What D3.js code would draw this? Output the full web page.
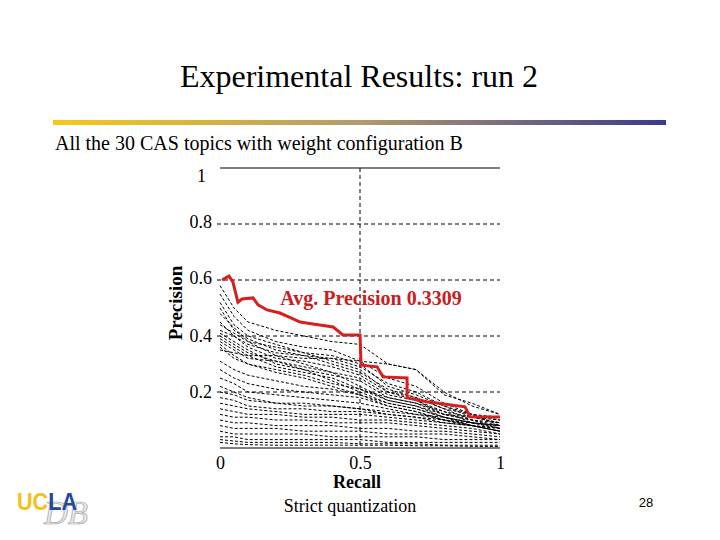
<!DOCTYPE html>
<html>
<head>
<meta charset="utf-8">
<script src="https://cdn.jsdelivr.net/npm/d3@7/dist/d3.min.js"></script>
<style>
  body { margin: 0; background: #fff; }
  svg text { font-family: "Liberation Serif", "Times New Roman", serif; }
</style>
</head>
<body>
<svg id="slide"></svg>
<script>
// Slide size
const svgWidth = 720;
const svgHeight = 540;

// Recall points where every topic curve is sampled
const recallPoints = [0, 0.05, 0.1, 0.2, 0.3, 0.4, 0.5, 0.6, 0.7, 0.8, 0.9, 1.0];

// Precision per topic (30 CAS topics)
const topicPrecision = [
    [0.58, 0.50, 0.45, 0.42, 0.40, 0.38, 0.37, 0.30, 0.28, 0.20, 0.15, 0.12],
    [0.55, 0.47, 0.42, 0.38, 0.36, 0.35, 0.31, 0.25, 0.22, 0.16, 0.12, 0.10],
    [0.52, 0.44, 0.40, 0.37, 0.34, 0.33, 0.30, 0.22, 0.19, 0.15, 0.11, 0.09],
    [0.50, 0.42, 0.39, 0.35, 0.33, 0.30, 0.27, 0.21, 0.18, 0.14, 0.10, 0.08],
    [0.48, 0.43, 0.38, 0.36, 0.34, 0.31, 0.28, 0.20, 0.17, 0.13, 0.11, 0.10],
    [0.45, 0.40, 0.37, 0.34, 0.33, 0.32, 0.29, 0.23, 0.20, 0.15, 0.12, 0.11],
    [0.44, 0.41, 0.38, 0.33, 0.30, 0.27, 0.25, 0.19, 0.17, 0.12, 0.10, 0.09],
    [0.42, 0.40, 0.36, 0.32, 0.31, 0.29, 0.26, 0.20, 0.18, 0.14, 0.12, 0.08],
    [0.41, 0.38, 0.35, 0.30, 0.28, 0.26, 0.24, 0.18, 0.16, 0.13, 0.09, 0.07],
    [0.40, 0.37, 0.34, 0.31, 0.29, 0.27, 0.22, 0.17, 0.15, 0.11, 0.09, 0.08],
    [0.39, 0.36, 0.33, 0.29, 0.27, 0.25, 0.21, 0.18, 0.16, 0.12, 0.10, 0.07],
    [0.38, 0.35, 0.32, 0.31, 0.28, 0.24, 0.20, 0.16, 0.14, 0.11, 0.08, 0.06],
    [0.37, 0.33, 0.30, 0.28, 0.26, 0.23, 0.21, 0.17, 0.15, 0.12, 0.11, 0.09],
    [0.36, 0.32, 0.30, 0.27, 0.25, 0.22, 0.19, 0.15, 0.13, 0.10, 0.08, 0.06],
    [0.35, 0.34, 0.33, 0.33, 0.32, 0.32, 0.31, 0.30, 0.28, 0.19, 0.16, 0.12],
    [0.31, 0.28, 0.26, 0.24, 0.22, 0.21, 0.19, 0.16, 0.14, 0.11, 0.09, 0.08],
    [0.28, 0.25, 0.23, 0.21, 0.20, 0.19, 0.18, 0.15, 0.13, 0.10, 0.08, 0.07],
    [0.25, 0.23, 0.20, 0.19, 0.18, 0.17, 0.16, 0.14, 0.12, 0.11, 0.09, 0.08],
    [0.22, 0.20, 0.18, 0.16, 0.16, 0.15, 0.14, 0.13, 0.12, 0.10, 0.09, 0.07],
    [0.20, 0.19, 0.17, 0.16, 0.15, 0.15, 0.14, 0.12, 0.11, 0.09, 0.08, 0.06],
    [0.18, 0.17, 0.15, 0.14, 0.14, 0.13, 0.13, 0.12, 0.11, 0.10, 0.08, 0.07],
    [0.16, 0.15, 0.14, 0.13, 0.12, 0.12, 0.12, 0.11, 0.10, 0.09, 0.08, 0.06],
    [0.14, 0.13, 0.12, 0.12, 0.11, 0.11, 0.10, 0.10, 0.09, 0.08, 0.07, 0.05],
    [0.12, 0.11, 0.11, 0.10, 0.10, 0.09, 0.09, 0.09, 0.08, 0.07, 0.06, 0.05],
    [0.10, 0.09, 0.09, 0.08, 0.08, 0.08, 0.07, 0.07, 0.06, 0.06, 0.05, 0.04],
    [0.08, 0.07, 0.07, 0.07, 0.06, 0.06, 0.06, 0.05, 0.05, 0.05, 0.04, 0.03],
    [0.06, 0.05, 0.05, 0.05, 0.05, 0.04, 0.04, 0.04, 0.04, 0.03, 0.03, 0.03],
    [0.04, 0.04, 0.03, 0.03, 0.03, 0.03, 0.03, 0.02, 0.02, 0.02, 0.02, 0.02],
    [0.03, 0.025, 0.02, 0.02, 0.02, 0.02, 0.015, 0.015, 0.015, 0.01, 0.01, 0.01],
    [0.02, 0.015, 0.012, 0.01, 0.01, 0.01, 0.01, 0.01, 0.008, 0.008, 0.006, 0.005]
];

// Red curve (average precision run)
const avgRecall = [0.007, 0.032, 0.046, 0.064, 0.079, 0.118, 0.136, 0.168, 0.214, 0.261, 0.286,
    0.332, 0.404, 0.439, 0.5, 0.504, 0.561, 0.582, 0.668, 0.668, 0.739, 0.875, 0.893, 1.0];
const avgPrecision = [0.600, 0.614, 0.593, 0.521, 0.532, 0.536, 0.511, 0.493, 0.482, 0.461, 0.450,
    0.443, 0.432, 0.404, 0.404, 0.296, 0.290, 0.254, 0.250, 0.179, 0.165, 0.147, 0.112, 0.111];

// Tick labels
const yTicks = [0.2, 0.4, 0.6, 0.8, 1];
const yTickLabels = ["0.2", "0.4", "0.6", "0.8", "1"];
const xTicks = [0, 0.5, 1];
const xTickLabels = ["0", "0.5", "1"];

const svg = d3.select("#slide")
    .attr("width", svgWidth)
    .attr("height", svgHeight);

// Title
svg.append("text")
    .attr("x", 359).attr("y", 87)
    .attr("text-anchor", "middle")
    .style("font-size", "32px")
    .text("Experimental Results: run 2");

// Gradient rule under the title
const grad = svg.append("defs").append("linearGradient")
    .attr("id", "rule");
grad.append("stop").attr("offset", "0%").attr("stop-color", "#f7c81c");
grad.append("stop").attr("offset", "50%").attr("stop-color", "#b49a6c");
grad.append("stop").attr("offset", "100%").attr("stop-color", "#383a8e");

svg.append("rect")
    .attr("x", 53).attr("y", 120)
    .attr("width", 613).attr("height", 5)
    .attr("fill", "url(#rule)");

svg.append("text")
    .attr("x", 55).attr("y", 150)
    .style("font-size", "20px")
    .text("All the 30 CAS topics with weight configuration B");

// Scales
const x = d3.scaleLinear().domain([0, 1]).range([220, 500]);
const y = d3.scaleLinear().domain([0, 1]).range([448, 168]);

const chart = svg.append("g");

// Dashed grid lines
chart.selectAll(".hgrid")
    .data(yTicks.filter(d => d < 1))
    .enter().append("line")
    .attr("x1", x(0) - 3).attr("x2", x(1))
    .attr("y1", d => y(d)).attr("y2", d => y(d))
    .attr("stroke", "#000").attr("stroke-width", 1)
    .attr("stroke-dasharray", "4,3");

chart.append("line")
    .attr("x1", x(0.5)).attr("x2", x(0.5))
    .attr("y1", y(1)).attr("y2", y(0))
    .attr("stroke", "#000").attr("stroke-width", 1)
    .attr("stroke-dasharray", "4,3");

// Solid top and bottom lines
[0, 1].forEach(v => {
    chart.append("line")
        .attr("x1", x(0)).attr("x2", x(1))
        .attr("y1", y(v)).attr("y2", y(v))
        .attr("stroke", "#000").attr("stroke-width", 1.2);
});

// Topic curves
const line = d3.line()
    .x(d => x(d[0]))
    .y(d => y(d[1]));

chart.selectAll(".topic")
    .data(topicPrecision)
    .enter().append("path")
    .attr("class", "topic")
    .attr("d", p => line(recallPoints.map((r, i) => [r, p[i]])))
    .attr("fill", "none")
    .attr("stroke", "#000")
    .attr("stroke-width", 1)
    .attr("stroke-dasharray", "3,2");

// Average curve
chart.append("path")
    .attr("d", line(avgRecall.map((r, i) => [r, avgPrecision[i]])))
    .attr("fill", "none")
    .attr("stroke", "#d71f1f")
    .attr("stroke-width", 3);

chart.append("text")
    .attr("x", 371).attr("y", 305)
    .attr("text-anchor", "middle")
    .attr("fill", "#c8201e")
    .style("font-size", "20px")
    .style("font-weight", "bold")
    .text("Avg. Precision 0.3309");

// Axes (labels only)
const yAxis = chart.append("g")
    .attr("transform", "translate(212,0)")
    .call(d3.axisLeft(y).tickValues(yTicks).tickSize(0).tickPadding(0)
        .tickFormat((d, i) => yTickLabels[i]));
yAxis.select(".domain").remove();
yAxis.selectAll("text")
    .style("font-family", "Liberation Serif, serif")
    .style("font-size", "18px")
    .attr("fill", "#000");
yAxis.selectAll(".tick").filter(d => d === 1)
    .select("text").attr("x", -6).attr("dy", "0.75em");
yAxis.selectAll(".tick").filter(d => d === 0.8 || d === 0.6)
    .select("text").attr("dy", "0.2em");

const xAxis = chart.append("g")
    .attr("transform", "translate(0,456)")
    .call(d3.axisBottom(x).tickValues(xTicks).tickSize(0).tickPadding(0)
        .tickFormat((d, i) => xTickLabels[i]));
xAxis.select(".domain").remove();
xAxis.selectAll("text")
    .style("font-family", "Liberation Serif, serif")
    .style("font-size", "18px")
    .attr("fill", "#000");

// Axis titles
svg.append("text")
    .attr("transform", "translate(182,303) rotate(-90)")
    .attr("text-anchor", "middle")
    .style("font-size", "19px")
    .style("font-weight", "bold")
    .text("Precision");

svg.append("text")
    .attr("x", 357).attr("y", 488)
    .attr("text-anchor", "middle")
    .style("font-size", "18px")
    .style("font-weight", "bold")
    .text("Recall");

svg.append("text")
    .attr("x", 350).attr("y", 512)
    .attr("text-anchor", "middle")
    .style("font-size", "18px")
    .text("Strict quantization");

// Page number
svg.append("text")
    .attr("x", 646).attr("y", 507)
    .attr("text-anchor", "middle")
    .style("font-family", "Liberation Sans Narrow, Liberation Sans, sans-serif")
    .style("font-size", "13px")
    .text("28");

// UCLA DB logo
svg.append("text")
    .attr("x", 44).attr("y", 524)
    .style("font-size", "33px")
    .style("font-style", "italic")
    .attr("fill", "#e6e6e6")
    .attr("stroke", "#a8a8a8")
    .attr("stroke-width", 0.7)
    .text("DB");

const logo = svg.append("text")
    .attr("x", 17).attr("y", 510)
    .style("font-family", "Liberation Sans, Arial, sans-serif")
    .style("font-size", "23px")
    .style("font-weight", "bold")
    .attr("textLength", 60)
    .attr("lengthAdjust", "spacingAndGlyphs");
logo.append("tspan").attr("fill", "#f2c21b").text("UC");
logo.append("tspan").attr("fill", "#24489a").text("LA");
</script>
</body>
</html>
